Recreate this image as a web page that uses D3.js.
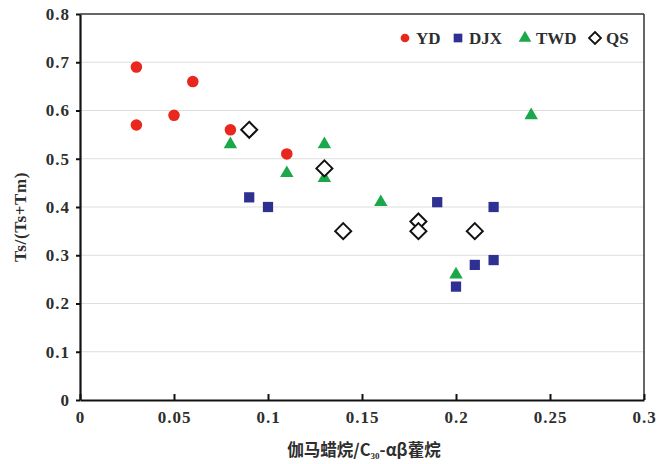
<!DOCTYPE html>
<html>
<head>
<meta charset="utf-8">
<script src="https://cdn.jsdelivr.net/npm/d3@7/dist/d3.min.js"></script>
<style>
  html, body { margin: 0; padding: 0; background: #fff; }
  svg { display: block; }
</style>
</head>
<body>
<svg id="chart" width="660" height="464"></svg>
<script>
// Sample groups: [gammacerane / C30-αβ hopane, Ts/(Ts+Tm)]
const ydPoints  = [[0.03, 0.69], [0.03, 0.57], [0.05, 0.59], [0.06, 0.66], [0.08, 0.56], [0.11, 0.51]];
const twdPoints = [[0.08, 0.53], [0.11, 0.47], [0.13, 0.53], [0.13, 0.46], [0.16, 0.41], [0.20, 0.26], [0.24, 0.59]];
const djxPoints = [[0.09, 0.42], [0.10, 0.40], [0.19, 0.41], [0.22, 0.40], [0.20, 0.235], [0.21, 0.28], [0.22, 0.29]];
const qsPoints  = [[0.09, 0.56], [0.13, 0.48], [0.14, 0.35], [0.18, 0.37], [0.18, 0.35], [0.21, 0.35]];

const xTicks = [0, 0.05, 0.1, 0.15, 0.2, 0.25, 0.3];
const yTicks = [0, 0.1, 0.2, 0.3, 0.4, 0.5, 0.6, 0.7, 0.8];
const seriesNames = ["YD", "DJX", "TWD", "QS"];

const svg = d3.select("#chart");
const margin = { left: 80, right: 16, top: 14, bottom: 64 };
const W = 660, H = 464;

const x = d3.scaleLinear().domain([0, 0.3]).range([margin.left, W - margin.right]);
const y = d3.scaleLinear().domain([0, 0.8]).range([H - margin.bottom, margin.top]);

const textColor = "#2e2e2e";
const serif = "Liberation Serif, Times New Roman, DejaVu Serif, serif";

// horizontal gridlines
svg.append("g")
  .selectAll("line")
  .data(yTicks.filter(d => d > 0 && d < 0.8))
  .join("line")
  .attr("x1", x(0)).attr("x2", x(0.3))
  .attr("y1", d => y(d)).attr("y2", d => y(d))
  .attr("stroke", "#dddddd").attr("stroke-width", 1.2);

// frame: top and right
svg.append("line")
  .attr("x1", x(0)).attr("x2", x(0.3)).attr("y1", y(0.8)).attr("y2", y(0.8))
  .attr("stroke", "#333").attr("stroke-width", 1.5);
svg.append("line")
  .attr("x1", x(0.3)).attr("x2", x(0.3)).attr("y1", y(0.8)).attr("y2", y(0))
  .attr("stroke", "#333").attr("stroke-width", 1.5);

function styleLabels(sel) {
  sel.attr("font-family", serif).attr("font-size", 17).attr("font-weight", "bold")
    .attr("letter-spacing", 1).attr("fill", textColor);
}

// x axis with ticks pointing inward
const xAxis = d3.axisBottom(x).tickValues(xTicks).tickSizeInner(-6).tickSizeOuter(0).tickPadding(11)
  .tickFormat(d => d3.format("")(+d.toFixed(2)));
const gx = svg.append("g").attr("transform", `translate(0,${y(0)})`).call(xAxis);
gx.select(".domain").attr("stroke", "#111").attr("stroke-width", 2.2);
gx.selectAll(".tick line").attr("stroke", "#111").attr("stroke-width", 2);
gx.selectAll(".tick text").call(styleLabels);

// y axis with ticks pointing outward
const yAxis = d3.axisLeft(y).tickValues(yTicks).tickSizeInner(4).tickSizeOuter(0).tickPadding(6)
  .tickFormat(d => d3.format("")(+d.toFixed(1)));
const gy = svg.append("g").attr("transform", `translate(${x(0)},0)`).call(yAxis);
gy.select(".domain").attr("stroke", "#111").attr("stroke-width", 2.2);
gy.selectAll(".tick line").attr("stroke", "#111").attr("stroke-width", 2);
gy.selectAll(".tick text").call(styleLabels);

// axis titles
svg.append("text")
  .attr("transform", "translate(26,217) rotate(-90)")
  .attr("text-anchor", "middle")
  .attr("font-family", serif).attr("font-size", 17).attr("font-weight", "bold")
  .attr("letter-spacing", 0.6)
  .attr("fill", textColor)
  .text("Ts/(Ts+Tm)");

const xTitle = svg.append("text")
  .attr("x", (x(0) + x(0.3)) / 2 + 2).attr("y", 456)
  .attr("text-anchor", "middle")
  .attr("font-family", "'Noto Sans CJK SC', sans-serif").attr("font-size", 16.5).attr("font-weight", "bold")
  .attr("fill", textColor);
xTitle.append("tspan").text("伽马蜡烷/C");
xTitle.append("tspan").attr("font-size", 9).attr("dy", 3).attr("font-family", serif).text("30");
xTitle.append("tspan").attr("dy", -3).text("-αβ藿烷");

// marker renderers
const red = "#e8281e", blue = "#2e3192", green = "#1aa84a";
const circleSym = d3.symbol().type(d3.symbolCircle).size(105);
const squareSym = d3.symbol().type(d3.symbolSquare).size(105);
const triSym = d3.symbol().type(d3.symbolTriangle).size(78);

function drawSymbols(data, gen, fill, cls) {
  svg.append("g").attr("class", cls)
    .selectAll("path")
    .data(data)
    .join("path")
    .attr("d", gen)
    .attr("transform", d => `translate(${x(d[0])},${y(d[1])})`)
    .attr("fill", fill);
}

drawSymbols(ydPoints, circleSym, red, "yd");
drawSymbols(twdPoints, triSym, green, "twd");
drawSymbols(djxPoints, squareSym, blue, "djx");

// QS diamonds as open outlines
const dia = 8;
const diamondPath = `M0,${-dia}L${dia},0L0,${dia}L${-dia},0Z`;
svg.append("g").attr("class", "qs")
  .selectAll("path")
  .data(qsPoints)
  .join("path")
  .attr("d", diamondPath)
  .attr("transform", d => `translate(${x(d[0])},${y(d[1])})`)
  .attr("fill", "#fff").attr("stroke", "#111").attr("stroke-width", 2);

// legend
const legend = svg.append("g").attr("transform", "translate(0,38)");
const legendItems = [
  { name: seriesNames[0], lx: 405, draw: g => g.append("path").attr("d", d3.symbol().type(d3.symbolCircle).size(60)).attr("fill", red) },
  { name: seriesNames[1], lx: 458, draw: g => g.append("path").attr("d", d3.symbol().type(d3.symbolSquare).size(75)).attr("fill", blue) },
  { name: seriesNames[2], lx: 525, draw: g => g.append("path").attr("d", d3.symbol().type(d3.symbolTriangle).size(70)).attr("fill", green) },
  { name: seriesNames[3], lx: 595, draw: g => g.append("path").attr("d", "M0,-6L6,0L0,6L-6,0Z").attr("fill", "#fff").attr("stroke", "#111").attr("stroke-width", 1.8) }
];
legendItems.forEach(it => {
  const g = legend.append("g").attr("transform", `translate(${it.lx},0)`);
  it.draw(g);
  g.append("text").attr("x", 11).attr("y", 6)
    .attr("font-family", serif).attr("font-size", 17).attr("font-weight", "bold")
    .attr("fill", textColor).text(it.name);
});
</script>
</body>
</html>
